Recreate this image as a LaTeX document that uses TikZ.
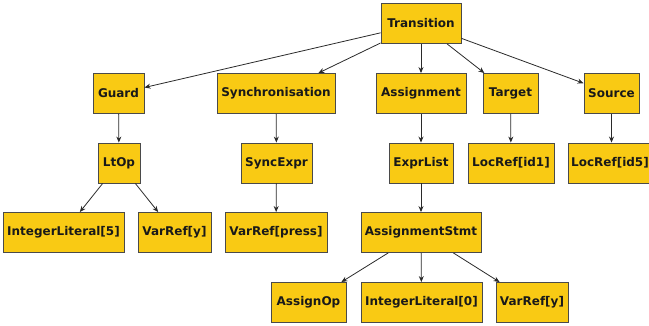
\documentclass[tikz,border=0pt]{standalone}
\usepackage{fontspec}
\setmainfont{DejaVu Sans}
\usetikzlibrary{arrows.meta}
\definecolor{boxfill}{HTML}{F9CA14}
\definecolor{boxline}{HTML}{4A4A4A}
\definecolor{edgecol}{HTML}{2A2A2A}
\begin{document}
\begin{tikzpicture}[x=1pt,y=-1pt,
  tbox/.style={draw=boxline,fill=boxfill,line width=0.9pt,inner sep=0pt,
    minimum height=40pt,font=\fontsize{12}{14}\selectfont\bfseries,text=black!90},
  conn/.style={draw=edgecol,line width=0.8pt,-{Stealth[length=6pt,width=5pt]}}]
\useasboundingbox (0,0) rectangle (649,326);
\node[tbox,minimum width=80pt] (tr) at (421,23.5) {Transition};
\node[tbox,minimum width=51pt] (gu) at (118.5,93.5) {Guard};
\node[tbox,minimum width=118pt] (sy) at (276,93.5) {Synchronisation};
\node[tbox,minimum width=90pt] (as) at (421,93.5) {Assignment};
\node[tbox,minimum width=55pt] (ta) at (510.5,93.5) {Target};
\node[tbox,minimum width=55pt] (so) at (611.5,93.5) {Source};
\node[tbox,minimum width=42pt] (lt) at (119,163) {LtOp};
\node[tbox,minimum width=71pt] (se) at (276.5,163) {SyncExpr};
\node[tbox,minimum width=64pt] (el) at (421,163) {ExprList};
\node[tbox,minimum width=86pt] (l1) at (511,163) {LocRef[id1]};
\node[tbox,minimum width=84pt] (l5) at (610,163) {LocRef[id5]};
\node[tbox,minimum width=121pt] (i5) at (63.5,232.5) {IntegerLiteral[5]};
\node[tbox,minimum width=73pt] (vy) at (174.5,232.5) {VarRef[y]};
\node[tbox,minimum width=102pt] (vp) at (276,232.5) {VarRef[press]};
\node[tbox,minimum width=120pt] (st) at (421,232.5) {AssignmentStmt};
\node[tbox,minimum width=75pt] (ao) at (308.5,302.5) {AssignOp};
\node[tbox,minimum width=121pt] (i0) at (421.5,302.5) {IntegerLiteral[0]};
\node[tbox,minimum width=72pt] (vy2) at (532,302.5) {VarRef[y]};
\draw[conn] (tr) -- (gu);
\draw[conn] (tr) -- (sy);
\draw[conn] (tr) -- (as);
\draw[conn] (tr) -- (ta);
\draw[conn] (tr) -- (so);
\draw[conn] (gu) -- (lt);
\draw[conn] (sy) -- (se);
\draw[conn] (as) -- (el);
\draw[conn] (ta) -- (l1);
\draw[conn] (so) -- (so |- l5.north);
\draw[conn] (lt) -- (i5);
\draw[conn] (lt) -- (vy);
\draw[conn] (se) -- (vp);
\draw[conn] (el) -- (st);
\draw[conn] (st) -- (ao);
\draw[conn] (st) -- (i0);
\draw[conn] (st) -- (vy2);
\end{tikzpicture}
\end{document}
